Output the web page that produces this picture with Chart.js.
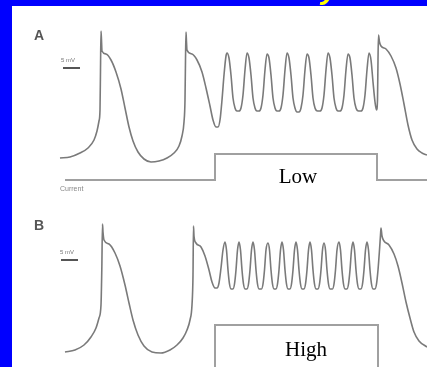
<!DOCTYPE html>
<html><head><meta charset="utf-8">
<script src="https://cdn.jsdelivr.net/npm/chart.js@4"></script>
<style>
html,body{margin:0;padding:0;background:#0000ff;overflow:hidden}
#wrap{position:absolute;left:0;top:0;width:427px;height:367px}
</style></head><body>
<div id="wrap"><canvas id="c" width="427" height="367"></canvas></div>
<script>
// Trace A (low stimulus): time (display units) and potential (display units, downward)
const timeA = [
  60,70,80,88,94,97,99,100,100.5,101,101.5,102,
  106,111,116,121,125,129,133,138,144,151,159,167,
  174,179,182,184,185,185.5,186,186.5,187,192,197,202,
  206,210,213,216,218,220,222,224,226,227,
  229,231,233,235,237,239,241,243,245,247,
  249,251,253,255,257,259,261,263,265,267,
  269,271,273,275,277,279,281,283,285,287,
  289,291,293,295,297,299,301,303,305,307,
  309,311,313,315,317.5,320,322,324,326,328,
  330,332,334,336,338,340,342,344,346,348,
  350,352,354,356,358.5,361,363,365,367,369,
  371,373,375,376.5,377.5,378,378.5,379.5,381,386,391,396,400,404,408,412,417,422,427
];
const potA = [
  158,157,153,148,140,131,121,110,70,31,40,51,
  54,60,72,89,108,127,141,152,159,162,161,158,
  153,146,136,122,100,60,32,42,50,54,60,72,
  88,106,120,127,127,120,100,75,56,53,
  58,75,98,108,111,111,108,95,70,53,
  58,75,98,108,111,111,108,95,70,54,
  58,75,98,108,111,111,108,95,70,53,
  58,75,98,108,112,112,108,95,70,54,
  58,75,98,108,111,111,108,95,70,53,
  58,75,98,108,111,111,108,95,70,54,
  58,75,98,108,111,111,108,95,70,53,
  60,82,102,110,100,60,35,42,46,49,56,68,84,104,125,140,149,153,155
];
// Trace B (high stimulus)
const timeB = [
  65,75,84,91,96,99,101,101.8,102.5,103,104,109,
  115,120,125,129,133,138,144,152,161,170,177,183,
  187,190,192,193,193.5,194,196,201,205,209,212,215,
  217,219,221,223,225,
  226.5,228,229.5,231,233,234.5,236,237.5,239,
  240.5,242,243.5,245,247,248.5,250,251.5,253,
  254.5,256,257.5,259,261.5,263,264.5,266,268,
  269.5,271,272.5,274,276,277.5,279,280.5,282,
  283.5,285,286.5,288,290,291.5,293,294.5,296,
  297.5,299,300.5,302,304,305.5,307,308.5,310,
  311.5,313,314.5,316,318,319.5,321,322.5,324,
  325.5,327,328.5,330,332.5,334,335.5,337,339,
  340.5,342,343.5,345,347,348.5,350,351.5,353,
  354.5,356,357.5,359,361,362.5,364,365.5,367,
  368.5,370,371.5,373,375,376.5,378,379.5,380.5,381,382,384,389,394,398,402,406,410,414,419,427
];
const potB = [
  352,350,345,337,328,318,305,270,224,232,240,244,
  253,266,285,303,320,335,346,352,353,350,345,338,
  330,320,305,275,226,236,243,247,256,270,282,288,
  288,283,268,250,242,
  250,270,284,289,289,284,270,250,242,
  250,270,284,289,289,284,270,250,242,
  250,270,284,289,289,284,270,250,243,
  250,270,284,289,289,284,270,250,242,
  250,270,284,289,289,284,270,250,242,
  250,270,284,289,289,284,270,250,242,
  250,270,284,289,289,284,270,250,243,
  250,270,284,289,289,284,270,250,242,
  250,270,284,289,289,284,270,250,242,
  250,270,284,289,289,284,270,250,242,
  250,270,284,289,289,284,270,250,235,228,236,241,245,254,266,283,302,318,332,341,347
];
// Stimulus current: A (step), B (box)
const timeStimA = [65,215,215,377,377,427];
const levelStimA = [180,180,154,154,180,180];
const timeStimB = [215,215,378,378];
const levelStimB = [372,325,325,372];
// Text labels
const panelLabels = ['A','B'];
const scaleLabel = '5 mV';
const currentLabel = 'Current';
const stimLabels = ['Low','High'];
const titleFragment = 'y';

function pts(xs, ys){ return xs.map((x,i)=>({x:x, y:ys[i]})); }

const annot = {
  id:'annot',
  beforeDraw(chart){
    const ctx = chart.ctx, xs = chart.scales.x, ys = chart.scales.y;
    ctx.save();
    ctx.fillStyle = '#0000ff';
    ctx.fillRect(0,0,chart.width,chart.height);
    const l = xs.getPixelForValue(12), t = ys.getPixelForValue(6);
    ctx.fillStyle = '#ffffff';
    ctx.fillRect(l, t, chart.width - l, chart.height - t);
    // title fragment (cut off at top)
    ctx.fillStyle = '#ffff00';
    ctx.font = 'bold italic 30px "Liberation Sans", Arial, sans-serif';
    ctx.textBaseline = 'alphabetic';
    ctx.fillText(titleFragment, xs.getPixelForValue(321), ys.getPixelForValue(-1));
    ctx.restore();
  },
  afterDatasetsDraw(chart){
    const ctx = chart.ctx, xs = chart.scales.x, ys = chart.scales.y;
    const X = v => xs.getPixelForValue(v), Y = v => ys.getPixelForValue(v);
    ctx.save();
    ctx.textBaseline = 'alphabetic';
    // panel letters
    ctx.fillStyle = '#555';
    ctx.font = 'bold 14px "Liberation Sans", Arial, sans-serif';
    ctx.textAlign = 'left';
    ctx.fillText(panelLabels[0], X(34), Y(40));
    ctx.fillText(panelLabels[1], X(34), Y(230));
    // scale bars
    ctx.fillStyle = '#777';
    ctx.font = '6px "Liberation Sans", Arial, sans-serif';
    ctx.fillText(scaleLabel, X(61), Y(62));
    ctx.fillText(scaleLabel, X(60), Y(254));
    ctx.strokeStyle = '#555';
    ctx.lineWidth = 2;
    ctx.beginPath();
    ctx.moveTo(X(63), Y(68)); ctx.lineTo(X(80), Y(68));
    ctx.moveTo(X(61), Y(260)); ctx.lineTo(X(78), Y(260));
    ctx.stroke();
    // current label
    ctx.fillStyle = '#888';
    ctx.font = '7px "Liberation Sans", Arial, sans-serif';
    ctx.fillText(currentLabel, X(60), Y(191));
    // stimulus labels
    ctx.fillStyle = '#000';
    ctx.font = '21px "Liberation Serif", "Times New Roman", serif';
    ctx.textAlign = 'center';
    ctx.fillText(stimLabels[0], X(298), Y(183));
    ctx.fillText(stimLabels[1], X(306), Y(356));
    ctx.restore();
  }
};

new Chart(document.getElementById('c'), {
  type:'line',
  data:{ datasets:[
    {data:pts(timeA,potA), borderColor:'#7a7a7a', borderWidth:1.6, cubicInterpolationMode:'monotone'},
    {data:pts(timeB,potB), borderColor:'#7a7a7a', borderWidth:1.6, cubicInterpolationMode:'monotone'},
    {data:pts(timeStimA,levelStimA), borderColor:'#a0a0a0', borderWidth:2, tension:0},
    {data:pts(timeStimB,levelStimB), borderColor:'#a0a0a0', borderWidth:2, tension:0}
  ]},
  options:{
    responsive:false, animation:false, devicePixelRatio:1,
    layout:{padding:0},
    elements:{point:{radius:0, hoverRadius:0}},
    plugins:{legend:{display:false}, tooltip:{enabled:false}, title:{display:false}},
    events:[],
    scales:{
      x:{type:'linear', display:false, min:0, max:427},
      y:{type:'linear', display:false, min:0, max:367, reverse:true}
    }
  },
  plugins:[annot]
});
</script>
</body></html>
